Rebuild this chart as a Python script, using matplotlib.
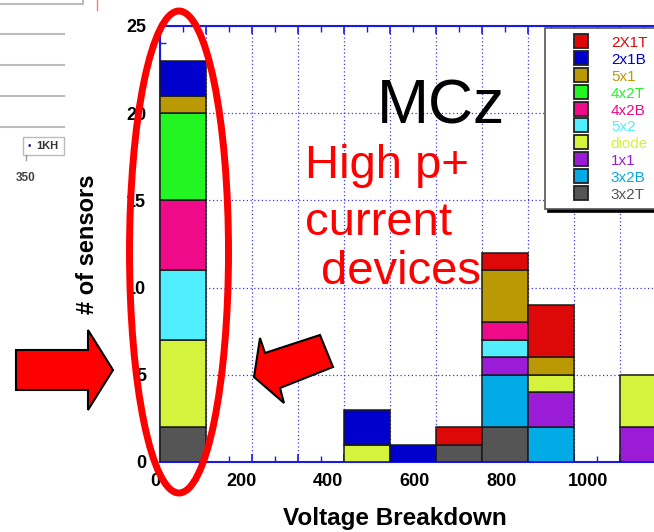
import numpy as np
import matplotlib
matplotlib.use('Agg')
import matplotlib.pyplot as plt
from matplotlib.patches import Ellipse, Polygon, Rectangle
from matplotlib.lines import Line2D
import matplotlib.transforms as mtransforms

plt.rcParams['font.family'] = ['Liberation Sans', 'DejaVu Sans']

# histogram bins (left edges, width 100 V)
bin_left = [0, 100, 200, 300, 400, 500, 600, 700, 800, 900, 1000]
# sensor types, stacking order bottom -> top
types = ['3x2T', '3x2B', '1x1', 'diode', '5x2', '4x2B', '4x2T', '5x1', '2x1B', '2X1T']
colors = ['#555555', '#02AAE6', '#9A1CD6', '#D5F23C', '#50EEFF',
          '#EE0A88', '#22F522', '#BB9905', '#0000CC', '#DD0808']
counts = {
    '3x2T':  [2, 0, 0, 0, 0, 0, 1, 2, 0, 0, 0],
    '3x2B':  [0, 0, 0, 0, 0, 0, 0, 3, 2, 0, 0],
    '1x1':   [0, 0, 0, 0, 0, 0, 0, 1, 2, 0, 2],
    'diode': [5, 0, 0, 0, 1, 0, 0, 0, 1, 0, 3],
    '5x2':   [4, 0, 0, 0, 0, 0, 0, 1, 0, 0, 0],
    '4x2B':  [4, 0, 0, 0, 0, 0, 0, 1, 0, 0, 0],
    '4x2T':  [5, 0, 0, 0, 0, 0, 0, 0, 0, 0, 0],
    '5x1':   [1, 0, 0, 0, 0, 0, 0, 3, 1, 0, 0],
    '2x1B':  [2, 0, 0, 0, 2, 1, 0, 0, 0, 0, 0],
    '2X1T':  [0, 0, 0, 0, 0, 0, 1, 1, 3, 0, 0],
}
xtick_vals = [0, 200, 400, 600, 800, 1000]
ytick_vals = [0, 5, 10, 15, 20, 25]

W, H = 654, 532
def fx(x): return x / W
def fy(y): return 1 - y / H

fig = plt.figure(figsize=(W / 100, H / 100), dpi=100)
ax = fig.add_axes([fx(160), fy(462), 1200 * 0.46 / W, 436 / H])

blue = '#1A1AE0'
x = np.array(bin_left)
bottom = np.zeros(len(bin_left))
for t, c in zip(types, colors):
    v = np.array(counts[t], dtype=float)
    m = v > 0
    ax.bar(x[m], v[m], width=100, align='edge', bottom=bottom[m], color=c,
           edgecolor='#1a1a1a', linewidth=1.1, zorder=3)
    bottom += v

ax.set_xlim(0, 1200)
ax.set_ylim(0, 25)
ax.set_xticks(np.arange(0, 1201, 100))
ax.set_xticks(np.arange(0, 1201, 50), minor=True)
ax.set_yticks(ytick_vals)
ax.set_yticks(np.arange(0, 26, 1), minor=True)
ax.set_xticklabels([])
ax.set_yticklabels([str(v) for v in ytick_vals], fontsize=13, fontweight='bold')
ax.tick_params(which='both', direction='in', colors=blue, top=True, right=True,
               labelcolor='black')
ax.tick_params(which='major', length=6, width=1.2, pad=10)
ax.tick_params(which='minor', length=4, width=1.0)
ax.grid(True, which='major', color='#3A3AE6', linestyle=(0, (1, 2)), linewidth=0.9)
ax.set_axisbelow(True)
for s in ax.spines.values():
    s.set_color(blue)
    s.set_linewidth(1.5)

# x tick labels (shifted scale as in the screenshot)
trans = mtransforms.blended_transform_factory(ax.transData, ax.transAxes)
for v in xtick_vals:
    ax.text(v * 0.942 - 11, -0.044, str(v), transform=trans, ha='center', va='center',
            fontsize=13, fontweight='bold', clip_on=False)

handles = [Line2D([], [], marker='s', linestyle='none', markersize=9.4,
                  markerfacecolor=c, markeredgecolor='#222222', markeredgewidth=1.3)
           for c in colors[::-1]]
leg = ax.legend(handles, types[::-1], loc='upper left',
                bbox_to_anchor=(fx(545), fy(28)), bbox_transform=fig.transFigure,
                borderaxespad=0, borderpad=0.45, fontsize=11, handlelength=3.86,
                handleheight=1.0, handletextpad=0.0, labelspacing=0.12,
                fancybox=False, edgecolor='#555555', framealpha=1,
                shadow={'color': 'black', 'alpha': 1})
leg.get_frame().set_linewidth(1.2)
for txt, c in zip(leg.get_texts(), colors[::-1]):
    txt.set_color(c)
leg.set_zorder(5)

# annotations
fig.text(fx(377), fy(123), 'MCz', fontsize=45, color='black', va='baseline', ha='left')
fig.text(fx(305), fy(178), 'High p+', fontsize=34, color='#FF0000', va='baseline', ha='left')
fig.text(fx(305), fy(235), 'current', fontsize=34, color='#FF0000', va='baseline', ha='left')
fig.text(fx(321), fy(284), 'devices', fontsize=34, color='#FF0000', va='baseline', ha='left')

fig.text(fx(88), fy(244), '# of sensors', rotation=90, fontsize=17, fontweight='bold',
         ha='center', va='center')
fig.text(fx(395), fy(519), 'Voltage Breakdown', fontsize=17.5, fontweight='bold',
         ha='center', va='center')

fig.patches.append(Ellipse((fx(179), fy(252)), 99 / W, 482 / H, transform=fig.transFigure,
                           fill=False, edgecolor='#FF0000', linewidth=5, zorder=6))
arrow1 = [(16, 350), (88, 350), (88, 330), (113, 370), (88, 410), (88, 390), (16, 390)]
arrow2 = [(254, 377), (260, 338), (265, 353), (320, 335), (333, 367), (280, 388), (284, 403)]
for pts in (arrow1, arrow2):
    fig.patches.append(Polygon([(fx(a), fy(b)) for a, b in pts], closed=True,
                               transform=fig.transFigure, facecolor='#FF0000',
                               edgecolor='black', linewidth=1.5, zorder=6))

# leftover piece of a neighbouring plot on the slide
for yy in (34, 65, 96, 127):
    fig.lines.append(Line2D([0, fx(64)], [fy(yy), fy(yy)], transform=fig.transFigure,
                            color='#BBBBBB', linewidth=1.5))
fig.lines.append(Line2D([0, fx(83), fx(83)], [fy(4), fy(4), fy(0)],
                        transform=fig.transFigure, color='#BBBBBB', linewidth=1.5))
fig.lines.append(Line2D([fx(97), fx(97)], [fy(0), fy(10)], transform=fig.transFigure,
                        color='#F08080', linewidth=1))
fig.patches.append(Rectangle((fx(23), fy(155)), 41 / W, 18 / H, transform=fig.transFigure,
                             facecolor='white', edgecolor='#BBBBBB', linewidth=1))
fig.text(fx(28), fy(146), '•', color='#1A1A99', fontsize=7, va='center', ha='left')
fig.text(fx(36), fy(146), '1KH', color='#333333', fontsize=8, fontweight='bold',
         va='center', ha='left')
fig.lines.append(Line2D([fx(26), fx(26)], [fy(155), fy(160)], transform=fig.transFigure,
                        color='#999999', linewidth=1))
fig.text(fx(26), fy(178), '350', color='#444444', fontsize=8.5, fontweight='bold',
         va='center', ha='center')

fig.savefig('out.png', dpi=100)
